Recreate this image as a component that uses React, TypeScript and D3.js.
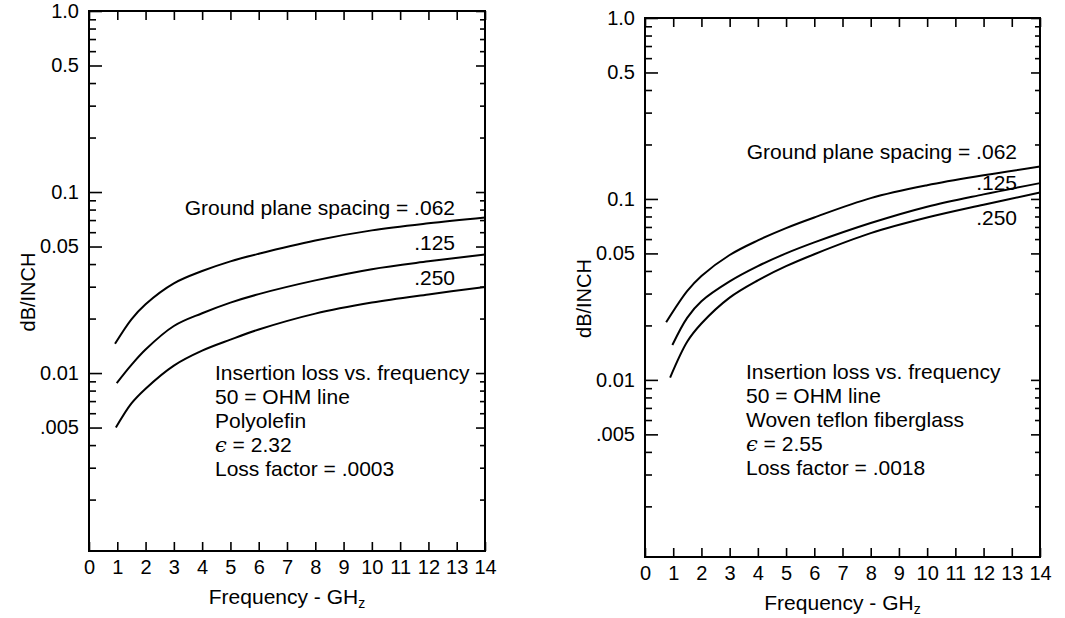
import { useEffect, useRef } from 'react';
import * as d3 from 'd3';

// shared axes
const freqTicks = [0, 1, 2, 3, 4, 5, 6, 7, 8, 9, 10, 11, 12, 13, 14];
const majorLoss = [1, 0.5, 0.1, 0.05, 0.01, 0.005];
const majorLossLabels = ['1.0', '0.5', '0.1', '0.05', '0.01', '.005'];
const spacingLabels = ['Ground plane spacing = .062', '.125', '.250'];

// Polyolefin (left)
const polyFreq062 = [0.92, 1.5, 2, 3, 4, 5, 6, 8, 10, 12, 14];
const polyLoss062 = [0.0145, 0.0198, 0.024, 0.0313, 0.0366, 0.0414, 0.0456, 0.054, 0.0614, 0.0672, 0.0724];
const polyFreq125 = [0.98, 1.5, 2, 3, 4, 5, 6, 8, 10, 12, 14];
const polyLoss125 = [0.0088, 0.0111, 0.0135, 0.0182, 0.0214, 0.0245, 0.0273, 0.0325, 0.0375, 0.0414, 0.0452];
const polyFreq250 = [0.95, 1.5, 2, 3, 4, 5, 6, 8, 10, 12, 14];
const polyLoss250 = [0.005, 0.0068, 0.0082, 0.011, 0.0133, 0.0153, 0.0174, 0.0213, 0.0245, 0.0272, 0.0299];
const polyInfo = ['Insertion loss vs. frequency', '50 = OHM line', 'Polyolefin', 'ϵ|= 2.32', 'Loss factor = .0003'];

// Woven teflon fiberglass (right)
const teflonFreq062 = [0.75, 1.5, 2, 3, 4, 5, 6, 8, 10, 12, 14];
const teflonLoss062 = [0.0208, 0.031, 0.0375, 0.049, 0.059, 0.069, 0.079, 0.101, 0.119, 0.135, 0.151];
const teflonFreq125 = [0.97, 1.5, 2, 3, 4, 5, 6, 8, 10, 12, 14];
const teflonLoss125 = [0.0156, 0.0221, 0.0272, 0.035, 0.0425, 0.05, 0.0575, 0.0736, 0.0906, 0.106, 0.1223];
const teflonFreq250 = [0.89, 1.5, 2, 3, 4, 5, 6, 8, 10, 12, 14];
const teflonLoss250 = [0.0103, 0.0163, 0.0205, 0.0285, 0.0355, 0.0425, 0.0495, 0.0647, 0.0789, 0.0929, 0.1086];
const teflonInfo = ['Insertion loss vs. frequency', '50 = OHM line', 'Woven teflon fiberglass', 'ϵ|= 2.55', 'Loss factor = .0018'];

const FONT = '"Liberation Sans", Arial, Helvetica, sans-serif';

const panels = [
  {
    x0: 89, x1: 485, y0: 11, y1: 551, yMin: 0.00104,
    series: [[polyFreq062, polyLoss062], [polyFreq125, polyLoss125], [polyFreq250, polyLoss250]],
    labelEnd: 455, labelY: [208, 243, 278],
    info: polyInfo, infoX: 215, infoY: 373,
  },
  {
    x0: 645, x1: 1040, y0: 18, y1: 557, yMin: 0.00105,
    series: [[teflonFreq062, teflonLoss062], [teflonFreq125, teflonLoss125], [teflonFreq250, teflonLoss250]],
    labelEnd: 1017, labelY: [152, 183, 218],
    info: teflonInfo, infoX: 746, infoY: 372,
  },
];

function styleAxis(g) {
  g.select('.domain').remove();
  g.selectAll('line').attr('stroke', '#000').attr('stroke-width', 1.6);
  g.selectAll('text').attr('font-family', FONT).attr('font-size', 20).attr('fill', '#000');
}

function drawPanel(svg, p) {
  const x = d3.scaleLinear().domain([0, 14]).range([p.x0, p.x1]);
  const y = d3.scaleLog().domain([p.yMin, 1]).range([p.y1, p.y0]);

  const minor = [];
  [0.001, 0.01, 0.1].forEach(dec => {
    for (let k = 1; k <= 9; k++) {
      const v = k * dec;
      if (v < p.yMin) continue;
      if (!majorLoss.some(m => Math.abs(m - v) / m < 1e-6)) minor.push(v);
    }
  });

  const g = svg.append('g');

  // left axis
  g.append('g').attr('transform', `translate(${p.x0},0)`)
    .call(d3.axisLeft(y).tickValues(majorLoss).tickSize(-13).tickPadding(10)
      .tickFormat((d, i) => majorLossLabels[i]))
    .call(styleAxis);
  g.append('g').attr('transform', `translate(${p.x0},0)`)
    .call(d3.axisLeft(y).tickValues(minor).tickSize(-7).tickFormat(() => ''))
    .call(styleAxis);

  // right axis
  g.append('g').attr('transform', `translate(${p.x1},0)`)
    .call(d3.axisRight(y).tickValues(majorLoss).tickSize(-9).tickFormat(() => ''))
    .call(styleAxis);
  g.append('g').attr('transform', `translate(${p.x1},0)`)
    .call(d3.axisRight(y).tickValues(minor).tickSize(-5).tickFormat(() => ''))
    .call(styleAxis);

  // bottom / top axes
  g.append('g').attr('transform', `translate(0,${p.y1})`)
    .call(d3.axisBottom(x).tickValues(freqTicks).tickSize(-9).tickPadding(9).tickFormat(d3.format('d')))
    .call(styleAxis);
  g.append('g').attr('transform', `translate(0,${p.y0})`)
    .call(d3.axisTop(x).tickValues(freqTicks).tickSize(-9).tickFormat(() => ''))
    .call(styleAxis);

  // frame
  g.append('rect')
    .attr('x', p.x0).attr('y', p.y0)
    .attr('width', p.x1 - p.x0).attr('height', p.y1 - p.y0)
    .attr('fill', 'none').attr('stroke', '#000').attr('stroke-width', 2);

  // curves
  const line = d3.line()
    .x(d => x(d[0]))
    .y(d => y(d[1]))
    .curve(d3.curveCatmullRom.alpha(0.5));
  p.series.forEach(([fs, vs]) => {
    g.append('path')
      .datum(fs.map((f, i) => [f, vs[i]]))
      .attr('d', line)
      .attr('fill', 'none')
      .attr('stroke', '#000')
      .attr('stroke-width', 2);
  });

  // spacing labels
  spacingLabels.forEach((t, i) => {
    g.append('text')
      .attr('x', p.labelEnd).attr('y', p.labelY[i]).attr('dy', '0.35em')
      .attr('text-anchor', 'end')
      .attr('font-family', FONT).attr('font-size', 21)
      .text(t);
  });

  // info block
  p.info.forEach((t, i) => {
    const txt = g.append('text')
      .attr('x', p.infoX).attr('y', p.infoY + i * 24).attr('dy', '0.35em')
      .attr('font-family', FONT).attr('font-size', 21);
    if (t.includes('|')) {
      const [sym, rest] = t.split('|');
      txt.append('tspan').attr('font-family', '"DejaVu Serif", serif').attr('font-style', 'italic').text(sym);
      txt.append('tspan').text(' ' + rest);
    } else {
      txt.text(t);
    }
  });

  // axis titles
  const xt = g.append('text')
    .attr('x', (p.x0 + p.x1) / 2).attr('y', p.y1 + 46).attr('dy', '0.35em')
    .attr('text-anchor', 'middle')
    .attr('font-family', FONT).attr('font-size', 21);
  xt.append('tspan').text('Frequency - GH');
  xt.append('tspan').attr('font-size', 14).attr('dy', 4).text('z');

  g.append('text')
    .attr('transform', `translate(${p.x0 - 61},${(p.y0 + p.y1) / 2 + 11}) rotate(-90)`)
    .attr('dy', '0.35em')
    .attr('text-anchor', 'middle')
    .attr('font-family', FONT).attr('font-size', 20)
    .text('dB/INCH');
}

const App = () => {
  const svgRef = useRef(null);

  useEffect(() => {
    const svg = d3.select(svgRef.current);
    svg.selectAll('*').remove();
    svg.append('rect').attr('width', 1065).attr('height', 618).attr('fill', '#fff');
    panels.forEach(p => drawPanel(svg, p));
  }, []);

  return (
    <svg
      ref={svgRef}
      width={1065}
      height={618}
      style={{ position: 'absolute', left: 0, top: 0, display: 'block' }}
    />
  );
};

export default App;
